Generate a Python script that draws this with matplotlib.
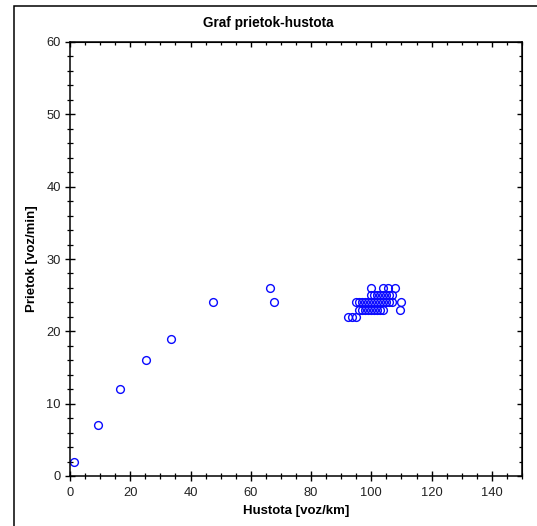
import matplotlib.pyplot as plt
import matplotlib.ticker as mticker
from matplotlib.patches import Rectangle

# namerane body: hustota [voz/km] a prietok [voz/min]
hustota_volna = [1.3, 9.3, 16.6, 25.2, 33.5, 47.5, 66.4, 67.7]
prietok_volna = [2, 7, 12, 16, 19, 24, 26, 24]

hustota_26 = [100, 104, 105.5, 108]
hustota_25 = [100, 101, 102, 103, 104, 105, 106, 107]
hustota_24 = [95, 96, 97, 98, 99, 100, 101, 102, 103, 104, 105, 106, 107, 110]
hustota_23 = [96, 97, 98, 99, 100, 101, 102, 103, 104, 109.5]
hustota_22 = [92.4, 93.7, 95]

hustota = (hustota_volna + hustota_26 + hustota_25 + hustota_24
           + hustota_23 + hustota_22)
prietok = (prietok_volna + [26] * len(hustota_26) + [25] * len(hustota_25)
           + [24] * len(hustota_24) + [23] * len(hustota_23)
           + [22] * len(hustota_22))

plt.rcParams['font.family'] = ['Liberation Sans', 'DejaVu Sans']

fig = plt.figure(figsize=(5.37, 5.26), dpi=100)
ax = fig.add_axes([70 / 537, 1 - 476 / 526, 452 / 537, 434 / 526])

ax.plot(hustota, prietok, linestyle='none', marker='o', markersize=5.6,
        markerfacecolor='none', markeredgecolor='#0a0aff', markeredgewidth=1.0)

ax.set_xlim(0, 150)
ax.set_ylim(0, 60)
ax.xaxis.set_major_locator(mticker.MultipleLocator(20))
ax.xaxis.set_minor_locator(mticker.MultipleLocator(5))
ax.yaxis.set_major_locator(mticker.MultipleLocator(10))
ax.yaxis.set_minor_locator(mticker.MultipleLocator(2))
ax.tick_params(which='major', direction='inout', length=7, width=1.0,
               labelsize=9.3, labelcolor='#222222')
ax.tick_params(axis='x', which='major', pad=4.5)
ax.tick_params(axis='y', which='major', pad=3)
ax.tick_params(which='minor', direction='inout', length=4.2, width=0.9)
for s in ax.spines.values():
    s.set_linewidth(1.1)

# horna a prava os s tickmi dovnutra, bez popisov
top = ax.secondary_xaxis('top')
top.xaxis.set_major_locator(mticker.MultipleLocator(20))
top.xaxis.set_minor_locator(mticker.MultipleLocator(5))
top.tick_params(which='major', direction='in', length=3.6, width=1.0, labeltop=False)
top.tick_params(which='minor', direction='in', length=2, width=0.9)
right = ax.secondary_yaxis('right')
right.yaxis.set_major_locator(mticker.MultipleLocator(10))
right.yaxis.set_minor_locator(mticker.MultipleLocator(2))
right.tick_params(which='major', direction='in', length=3.6, width=1.0, labelright=False)
right.tick_params(which='minor', direction='in', length=2, width=0.9)

ax.set_xlabel('Hustota [voz/km]', fontsize=9.5, fontweight='bold', labelpad=4)
ax.set_ylabel('Prietok [voz/min]', fontsize=9.5, fontweight='bold', labelpad=6)
fig.text(0.5, 1 - 23 / 526, 'Graf prietok-hustota', ha='center', va='center',
         fontsize=9.8, fontweight='bold')

# ram okolo celeho grafu
fig.patches.append(Rectangle((13.5 / 537, -0.1), 1.2, 1 - 5.5 / 526 + 0.1,
                             transform=fig.transFigure, fill=False,
                             edgecolor='black', linewidth=1.1))

fig.savefig('out.png', dpi=100)
